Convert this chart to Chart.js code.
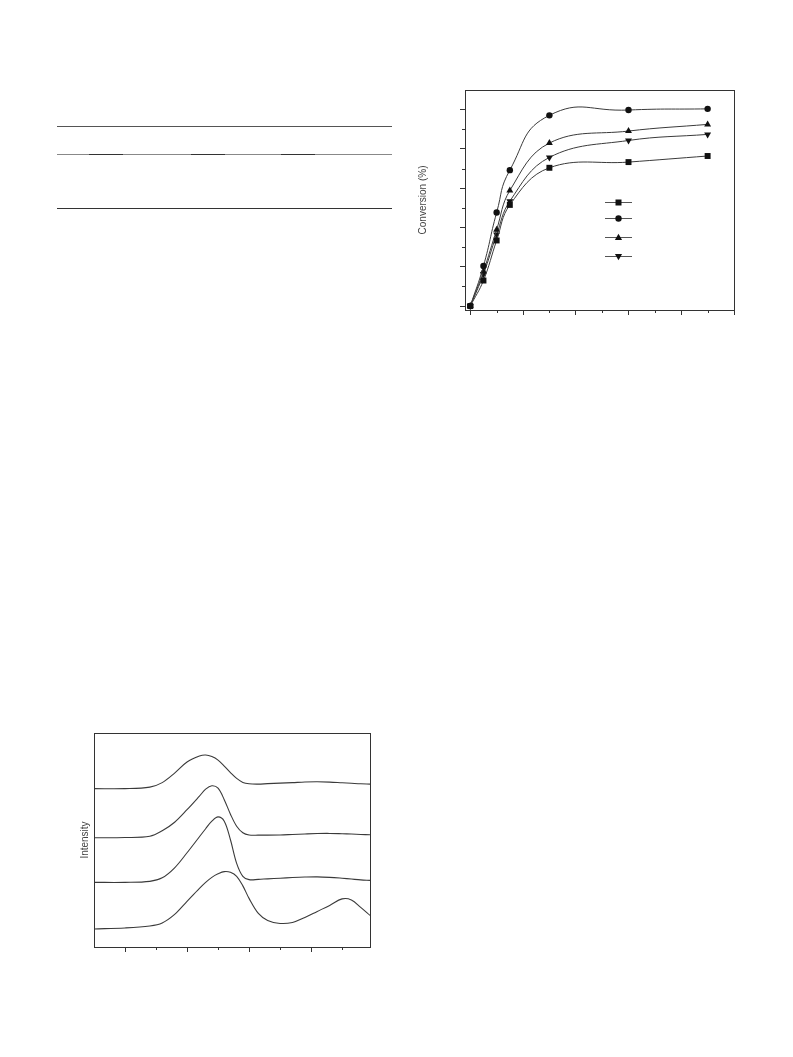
<!DOCTYPE html>
<html>
<head>
<meta charset="utf-8">
<script src="https://cdn.jsdelivr.net/npm/chart.js"></script>
<style>
  body { margin: 0; background: #fff; width: 793px; height: 1057px; position: relative; overflow: hidden; }
  .box { position: absolute; }
  .rule { position: absolute; height: 1px; }
</style>
</head>
<body>
<!-- table rules (text removed in the scan) -->
<div class="rule" style="left:57px; top:126px; width:335px; background:#555;"></div>
<div class="rule" style="left:57px; top:154px; width:335px; background:#888;"></div>
<div class="rule" style="left:89px; top:154px; width:34px; background:#333;"></div>
<div class="rule" style="left:191px; top:154px; width:34px; background:#333;"></div>
<div class="rule" style="left:281px; top:154px; width:34px; background:#333;"></div>
<div class="rule" style="left:57px; top:208px; width:335px; background:#333;"></div>

<div class="box" style="left:410px; top:80px;"><canvas id="convChart" width="340" height="250"></canvas></div>
<div class="box" style="left:75px; top:725px;"><canvas id="intChart" width="300" height="234"></canvas></div>

<script>
// conversion vs time
const timePoints = [0, 0.5, 1, 1.5, 3, 6, 9];
const convSquare = [0, 13.0, 33.4, 51.5, 70.4, 73.3, 76.4];
const convCircle = [0, 20.4, 47.6, 69.2, 97.1, 99.8, 100.4];
const convTriangle = [0, 17.7, 38.9, 58.8, 83.0, 89.1, 92.5];
const convInvTriangle = [0, 16.2, 36.4, 53.4, 75.7, 84.3, 87.4];
const convXMajor = [0, 2, 4, 6, 8, 10];
const convXMinor = [1, 3, 5, 7, 9];
const convYMajor = [0, 20, 40, 60, 80, 100];
const convYMinor = [10, 30, 50, 70, 90];

// intensity profiles (arbitrary units, stacked)
const profileX = [5, 10, 14, 16, 18, 20, 22, 23, 24, 25, 26, 27, 28, 29, 30, 31.5, 33, 35, 37, 39, 41, 43, 45, 46.5, 48, 49.5];
const profileA = [158, 158, 159.5, 164, 173.5, 184.5, 190.5, 191.5, 190, 186.5, 180.5, 174, 168.2, 164.2, 162.8, 162.5, 163, 163.5, 164, 164.6, 164.8, 164.5, 163.8, 163.3, 162.8, 162.5];
const profileB = [109, 109.2, 110.5, 116, 124.5, 137, 150.5, 157.5, 160.8, 158.5, 147, 132.5, 120.5, 114, 111.8, 111.6, 111.6, 111.8, 112.3, 112.8, 113.2, 113.3, 113, 112.7, 112.3, 112];
const profileC = [64.5, 64.5, 65.5, 69, 79, 94, 110, 118, 125.5, 129.8, 125.5, 107, 83.5, 70.5, 67.2, 67.5, 68, 68.6, 69.3, 69.8, 70, 69.5, 68.6, 67.8, 67, 66.5];
const profileD = [18, 19, 21, 24, 32.5, 45.5, 58.5, 64.5, 69.5, 73, 75.2, 74.5, 70.5, 61, 48.5, 33.5, 26.5, 23.5, 24.5, 29.5, 35.5, 41.5, 48, 47, 39.5, 31.5];
const intXMajor = [10, 20, 30, 40];
const intXMinor = [15, 25, 35, 45];

const axisColor = '#333';
const lineColor = '#3a3a3a';
const fontFamily = '"Liberation Sans", Arial, sans-serif';

// frame + short minor ticks + marker legend
const frameTicks = {
  id: 'frameTicks',
  afterDraw(chart, args, opts) {
    const { ctx, chartArea: a, scales } = chart;
    ctx.save();
    ctx.strokeStyle = axisColor;
    ctx.lineWidth = 1;
    ctx.strokeRect(Math.round(a.left) + 0.5, Math.round(a.top) + 0.5, Math.round(a.right - a.left), Math.round(a.bottom - a.top));
    ctx.beginPath();
    (opts.xMinor || []).forEach(v => {
      const px = Math.round(scales.x.getPixelForValue(v)) + 0.5;
      ctx.moveTo(px, a.bottom);
      ctx.lineTo(px, a.bottom + 3);
    });
    (opts.yMinor || []).forEach(v => {
      const py = Math.round(scales.y.getPixelForValue(v)) + 0.5;
      ctx.moveTo(a.left, py);
      ctx.lineTo(a.left - 3, py);
    });
    ctx.stroke();

    if (opts.legend) {
      const offsets = [112, 127.5, 146.5, 165.5];
      chart.data.datasets.forEach((ds, i) => {
        const y = Math.round(a.top + offsets[i]) + 0.5;
        const x1 = a.left + 140, x2 = a.left + 167;
        ctx.strokeStyle = '#555';
        ctx.beginPath();
        ctx.moveTo(x1, y);
        ctx.lineTo(x2, y);
        ctx.stroke();
        drawMarker(ctx, ds.pointStyle, ds.pointRotation, (x1 + x2) / 2, y);
      });
    }
    ctx.restore();
  }
};

function drawMarker(ctx, style, rot, x, y) {
  ctx.fillStyle = '#111';
  ctx.beginPath();
  if (style === 'rect') {
    ctx.rect(x - 3, y - 3, 6, 6);
  } else if (style === 'circle') {
    ctx.arc(x, y, 3.2, 0, Math.PI * 2);
  } else {
    const s = rot === 180 ? -1 : 1;
    ctx.moveTo(x, y - 3.8 * s);
    ctx.lineTo(x + 3.6, y + 2.6 * s);
    ctx.lineTo(x - 3.6, y + 2.6 * s);
    ctx.closePath();
  }
  ctx.fill();
}

function series(xs, ys) {
  return xs.map((x, i) => ({ x: x, y: ys[i] }));
}

function convSet(values, style, radius, rotation, tension) {
  return {
    label: '',
    data: series(timePoints, values),
    borderColor: lineColor,
    borderWidth: 1,
    backgroundColor: '#111',
    pointBackgroundColor: '#111',
    pointBorderColor: '#111',
    pointBorderWidth: 0,
    pointStyle: style,
    pointRadius: radius,
    pointRotation: rotation || 0,
    tension: tension || 0.4,
    fill: false
  };
}

new Chart(document.getElementById('convChart'), {
  type: 'line',
  data: {
    datasets: [
      convSet(convSquare, 'rect', 4.2),
      convSet(convCircle, 'circle', 3.2, 0, 0.5),
      convSet(convTriangle, 'triangle', 4),
      convSet(convInvTriangle, 'triangle', 4, 180)
    ]
  },
  options: {
    responsive: false,
    animation: false,
    layout: { padding: { left: 0, top: 10, right: 16, bottom: 0 } },
    plugins: {
      legend: { display: false },
      tooltip: { enabled: false },
      frameTicks: { xMinor: convXMinor, yMinor: convYMinor, legend: true }
    },
    scales: {
      x: {
        type: 'linear',
        min: -0.2,
        max: 10,
        afterBuildTicks: s => { s.ticks = convXMajor.map(v => ({ value: v })); },
        afterFit: s => { s.height = 20; },
        ticks: { display: false },
        border: { display: false },
        grid: { drawOnChartArea: false, drawTicks: true, tickLength: 5, tickColor: axisColor, color: axisColor }
      },
      y: {
        type: 'linear',
        min: -2,
        max: 110,
        afterBuildTicks: s => { s.ticks = convYMajor.map(v => ({ value: v })); },
        afterFit: s => { s.width = 55; },
        ticks: { display: false },
        border: { display: false },
        grid: { drawOnChartArea: false, drawTicks: true, tickLength: 5, tickColor: axisColor, color: axisColor },
        title: { display: true, text: 'Conversion (%)', color: '#444', font: { family: fontFamily, size: 10 }, padding: { top: 7.5, bottom: 0 } }
      }
    }
  },
  plugins: [frameTicks]
});

function profileSet(values) {
  return {
    label: '',
    data: series(profileX, values),
    borderColor: lineColor,
    borderWidth: 1.1,
    pointRadius: 0,
    tension: 0.35,
    fill: false
  };
}

new Chart(document.getElementById('intChart'), {
  type: 'line',
  data: {
    datasets: [profileSet(profileA), profileSet(profileB), profileSet(profileC), profileSet(profileD)]
  },
  options: {
    responsive: false,
    animation: false,
    layout: { padding: { left: 0, top: 8, right: 5, bottom: 0 } },
    plugins: {
      legend: { display: false },
      tooltip: { enabled: false },
      frameTicks: { xMinor: intXMinor, yMinor: [] }
    },
    scales: {
      x: {
        type: 'linear',
        min: 5,
        max: 49.5,
        afterBuildTicks: s => { s.ticks = intXMajor.map(v => ({ value: v })); },
        afterFit: s => { s.height = 12; },
        ticks: { display: false },
        border: { display: false },
        grid: { drawOnChartArea: false, drawTicks: true, tickLength: 5, tickColor: axisColor, color: axisColor }
      },
      y: {
        type: 'linear',
        min: 0,
        max: 213.5,
        afterFit: s => { s.width = 19; },
        ticks: { display: false },
        border: { display: false },
        grid: { display: false },
        title: { display: true, text: 'Intensity', color: '#444', font: { family: fontFamily, size: 10 }, padding: { top: 4.5, bottom: 0 } }
      }
    }
  },
  plugins: [frameTicks]
});
</script>
</body>
</html>
